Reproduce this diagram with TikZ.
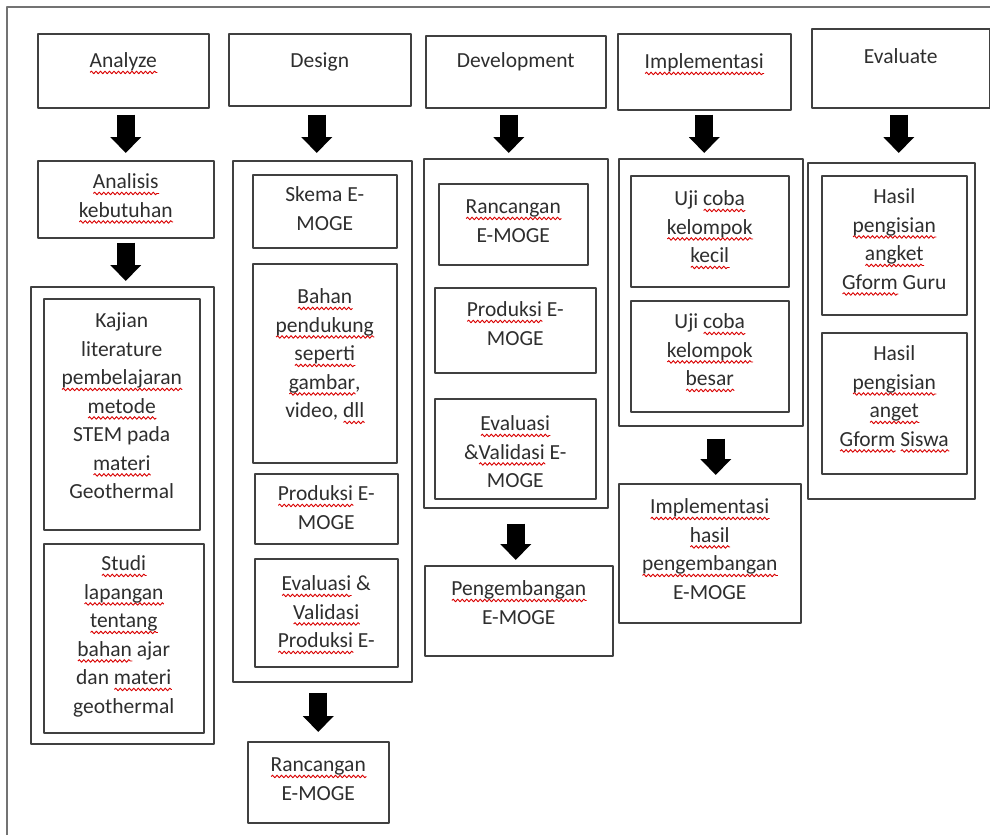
\documentclass[tikz,border=0pt]{standalone}
\usepackage{fontspec}
\setmainfont{Carlito}
\usepackage{tikz}
\usetikzlibrary{arrows.meta,decorations.pathmorphing}
\tikzset{>=latex}
\tikzset{
  box/.style={draw=black!75, line width=1.5pt, inner sep=0pt, anchor=north west, text=black!82,
    font=\fontsize{21.5pt}{28.5pt}\selectfont},
  bigarrow/.style={line width=18pt, black, -{Triangle[length=16pt,width=30pt]}},
  frame/.style={draw=black!55, line width=1.8pt},
  wavy/.style={red!85!black, line width=0.9pt, decorate, decoration={snake, amplitude=1.3pt, segment length=4.5pt}}
}
% red wavy underline of the spell check
\newsavebox\sqbox
\newcommand{\sq}[1]{\leavevmode\sbox\sqbox{#1}\rlap{\smash{\raisebox{-6.5pt}{\tikz[x=1pt,y=1pt]\draw[wavy] (0,0) -- (\the\wd\sqbox,0);}}}\usebox\sqbox}
% text box: [top pad]{width}{height}{text}
\newcommand{\tb}[4][9]{\parbox[c][#3pt][t]{#2pt}{\centering\vspace*{#1pt}\strut#4}}

\begin{document}
\begin{tikzpicture}[x=1pt,y=-1pt,line join=round]
\useasboundingbox (0,0) rectangle (990,835);
\draw[frame] (7,835) -- (7,7) -- (990,7);

% Analyze
\node[box] (analyze) at (37,33) {\tb[14]{171}{74}{\sq{Analyze}}};
\node[box] (analisis) at (37,160) {\tb[8]{176}{77}{\sq{Analisis}\\\sq{kebutuhan}}};
\node[box, minimum width=183pt, minimum height=457pt] (grpA) at (30,286) {};
\node[box] (kajian) at (43,298) {\tb{156}{231}{Kajian\\literature\\\sq{pembelajaran}\\\sq{metode}\\STEM pada\\\sq{materi}\\Geothermal}};
\node[box] (studi) at (43,543) {\tb[7]{160}{189}{\sq{Studi}\\\sq{lapangan}\\\sq{tentang}\\\sq{bahan} ajar\\dan \sq{materi}\\geothermal}};

% Design
\node[box] (design) at (228,33) {\tb[14]{182}{72}{Design}};
\node[box, minimum width=179pt, minimum height=521pt] (grpD) at (232,160) {};
\node[box] (skema) at (252,174) {\tb[7]{144}{73}{Skema E-\\MOGE}};
\node[box] (bahan) at (252,263) {\tb[20]{144}{199}{\sq{Bahan}\\\sq{pendukung}\\\sq{seperti}\\\sq{gambar},\\video, \sq{dll}}};
\node[box] (produksiD) at (254,473) {\tb[7]{143}{70}{\sq{Produksi} E-\\MOGE}};
\node[box] (evaluasiD) at (254,558) {\tb[12]{143}{108}{\sq{Evaluasi} \&\\\sq{Validasi}\\\sq{Produksi} E-}};
\node[box] (rancanganD) at (247,741) {\tb[10]{141}{81}{\sq{Rancangan}\\E-MOGE}};

% Development
\node[box] (development) at (425,35) {\tb[12]{180}{72}{Development}};
\node[box, minimum width=184pt, minimum height=349pt] (grpDev) at (423,158) {};
\node[box] (rancanganDev) at (438,183) {\tb[10]{149}{81}{\sq{Rancangan}\\E-MOGE}};
\node[box] (produksiDev) at (434,287) {\tb{161}{85}{\sq{Produksi} E-\\MOGE}};
\node[box] (evaluasiDev) at (434,398) {\tb[12]{161}{100}{\sq{Evaluasi}\\\&\sq{Validasi} E-\\MOGE}};
\node[box] (pengembangan) at (424,565) {\tb[10]{188}{90}{\sq{Pengembangan}\\E-MOGE}};

% Implementasi
\node[box] (implementasi) at (617,33) {\tb[15]{173}{76}{\sq{Implementasi}}};
\node[box, minimum width=184pt, minimum height=267pt] (grpI) at (618,158) {};
\node[box] (ujiKecil) at (630,175) {\tb[10]{158}{111}{Uji \sq{coba}\\\sq{kelompok}\\\sq{kecil}}};
\node[box] (ujiBesar) at (630,300) {\tb[8]{158}{111}{Uji \sq{coba}\\\sq{kelompok}\\\sq{besar}}};
\node[box] (impHasil) at (618,483) {\tb[10]{182}{139}{\sq{Implementasi}\\\sq{hasil}\\\sq{pengembangan}\\E-MOGE}};

% Evaluate
\node[box] (evaluate) at (811,28) {\tb[15]{178}{79}{Evaluate}};
\node[box, minimum width=167pt, minimum height=336pt] (grpE) at (807,162) {};
\node[box] (hasilGuru) at (821,175) {\tb[8]{145}{139}{Hasil\\\sq{pengisian}\\\sq{angket}\\\sq{Gform} Guru}};
\node[box] (hasilSiswa) at (821,332) {\tb[8]{145}{141}{Hasil\\\sq{pengisian}\\\sq{anget}\\\sq{Gform} \sq{Siswa}}};

% arrows
\draw[bigarrow, shorten <=6pt, shorten >=7pt] (analyze.south -| analisis.north) -- (analisis.north);
\draw[bigarrow, shorten <=4pt, shorten >=5pt] (analisis.south) -- (analisis.south |- grpA.north);
\draw[bigarrow, shorten <=8pt, shorten >=7pt] ([xshift=-3pt]design.south) -- ([xshift=-3pt]design.south |- grpD.north);
\draw[bigarrow, shorten <=10pt, shorten >=9pt] (grpD.south -| rancanganD.north) -- (rancanganD.north);
\draw[bigarrow, shorten <=6pt, shorten >=5pt] ([xshift=-7pt]development.south) -- ([xshift=-7pt]development.south |- grpDev.north);
\draw[bigarrow, shorten <=15pt, shorten >=5pt] (grpDev.south) -- (grpDev.south |- pengembangan.north);
\draw[bigarrow, shorten <=4pt, shorten >=5pt] (implementasi.south) -- (implementasi.south |- grpI.north);
\draw[bigarrow, shorten <=12pt, shorten >=8pt] ([xshift=5pt]grpI.south) -- ([xshift=5pt]grpI.south |- impHasil.north);
\draw[bigarrow, shorten <=6pt, shorten >=9pt] ([xshift=-2pt]evaluate.south) -- ([xshift=-2pt]evaluate.south |- grpE.north);
\end{tikzpicture}
\end{document}
